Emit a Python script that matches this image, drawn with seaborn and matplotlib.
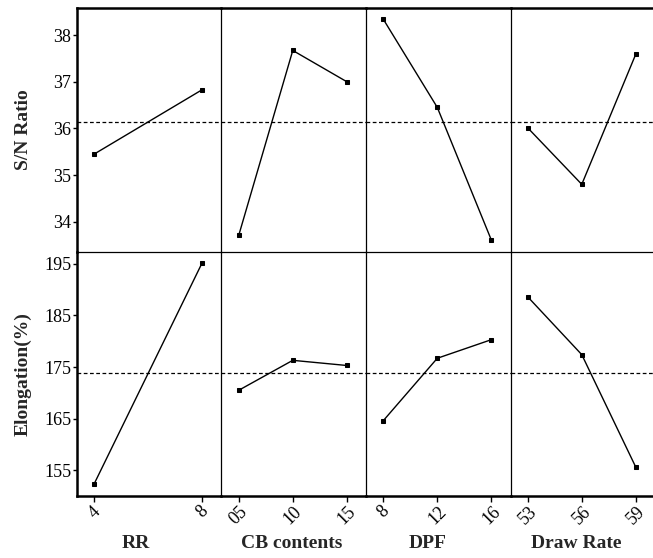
import numpy as np
import pandas as pd
import matplotlib
matplotlib.use("Agg")
import matplotlib.pyplot as plt
import seaborn as sns

# ---- data ----
factors = ["RR", "CB contents", "DPF", "Draw Rate"]
rr_levels = [4, 8]
cb_levels = [0.5, 1.0, 1.5]
dpf_levels = [8, 12, 16]
draw_levels = [5.3, 5.6, 5.9]
rr_ticks = ["4", "8"]
cb_ticks = ["05", "10", "15"]
dpf_ticks = ["8", "12", "16"]
draw_ticks = ["53", "56", "59"]

sn_rr = [35.45, 36.83]
sn_cb = [33.71, 37.67, 37.00]
sn_dpf = [38.34, 36.45, 33.61]
sn_draw = [36.01, 34.80, 37.59]

el_rr = [152.4, 195.25]
el_cb = [170.5, 176.3, 175.3]
el_dpf = [164.6, 176.7, 180.3]
el_draw = [188.6, 177.4, 155.6]

sn_yticks = [34, 35, 36, 37, 38]
el_yticks = [155, 165, 175, 185, 195]
row_labels = ["S/N Ratio", "Elongation(%)"]

levels = [rr_levels, cb_levels, dpf_levels, draw_levels]
ticklabels = [rr_ticks, cb_ticks, dpf_ticks, draw_ticks]
sn_vals = [sn_rr, sn_cb, sn_dpf, sn_draw]
el_vals = [el_rr, el_cb, el_dpf, el_draw]

rows = []
for f, lv, s, e in zip(factors, levels, sn_vals, el_vals):
    for x, a, b in zip(lv, s, e):
        rows.append({"factor": f, "level": x, "SN": a, "EL": b})
df = pd.DataFrame(rows)

sns.set_theme(style="white")
plt.rcParams["font.family"] = ["Liberation Serif", "DejaVu Serif"]

W, H = 653, 558
fig = plt.figure(figsize=(W / 100, H / 100), dpi=100)

x_edges = [77, 221.5, 366, 510.5, 655]
y_edges = [8, 252, 496]
ylims = [(33.35, 38.58), (150.0, 197.3)]
yticks = [sn_yticks, el_yticks]
cols = ["SN", "EL"]
thick, thin = 1.8, 0.9

for r in range(2):
    means = df[cols[r]].mean()
    for c in range(4):
        x0, x1 = x_edges[c], x_edges[c + 1]
        y0, y1 = y_edges[r], y_edges[r + 1]
        ax = fig.add_axes([x0 / W, 1 - y1 / H, (x1 - x0) / W, (y1 - y0) / H])
        ax.patch.set_alpha(0.0)
        sub = df[df["factor"] == factors[c]]
        sns.lineplot(data=sub, x="level", y=cols[r], ax=ax, color="black",
                     lw=1.0, marker="s", markersize=3.5, markeredgecolor="black",
                     estimator=None, sort=False)
        ax.axhline(means, color="black", lw=0.9, ls=(0, (3, 2)))
        lv = levels[c]
        span = max(lv) - min(lv)
        ax.set_xlim(min(lv) - 0.16 * span, max(lv) + 0.178 * span)
        ax.set_ylim(*ylims[r])
        ax.set_xlabel("")
        ax.set_ylabel("")
        for s in ax.spines.values():
            s.set_color("black")
        ax.spines["right"].set_visible(False)
        ax.spines["left"].set_linewidth(thick if c == 0 else thin)
        if r == 0:
            ax.spines["top"].set_linewidth(thick)
            ax.spines["bottom"].set_visible(False)
        else:
            ax.spines["top"].set_linewidth(thin)
            ax.spines["bottom"].set_linewidth(thick)
        if c == 0:
            ax.set_yticks(yticks[r])
            ax.set_yticklabels([str(t) for t in yticks[r]], fontsize=13)
            ax.tick_params(axis="y", left=True, length=3, width=1, pad=1,
                           direction="out", colors="black")
        else:
            ax.set_yticks([])
        if r == 1:
            ax.set_xticks(lv)
            ax.set_xticklabels(ticklabels[c], fontsize=13, rotation=45,
                               ha="center", va="top")
            ax.tick_params(axis="x", bottom=True, length=4, width=1, pad=1,
                           direction="out", colors="black")
        else:
            ax.set_xticks([])

xlab_x = [136, 292, 428, 576]
for name, xx in zip(factors, xlab_x):
    fig.text(xx / W, 1 - 544 / H, name, ha="center", va="center",
             fontsize=14, fontweight="bold")
fig.text(23 / W, 1 - 130 / H, row_labels[0], ha="center", va="center",
         rotation=90, fontsize=14, fontweight="bold")
fig.text(23 / W, 1 - 374 / H, row_labels[1], ha="center", va="center",
         rotation=90, fontsize=14, fontweight="bold")

fig.savefig("out.png", dpi=100, facecolor="white")
